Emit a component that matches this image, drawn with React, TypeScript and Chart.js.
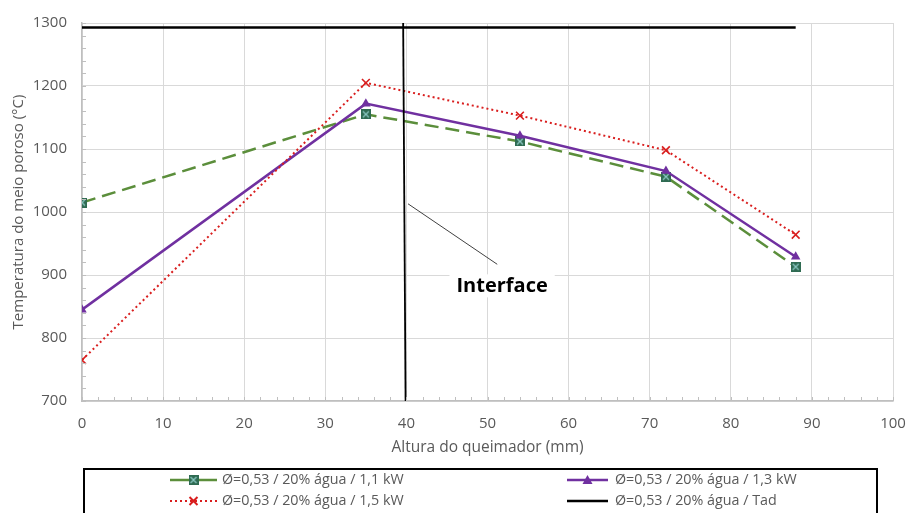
import React, { useEffect, useRef } from 'react';
import { Chart, registerables } from 'chart.js';

Chart.register(...registerables);

// ---- data ----
const heights = [0, 35, 54, 72, 88];
const temp11kW = [1015, 1155, 1112, 1056, 913];
const temp13kW = [845, 1172, 1121, 1065, 929];
const temp15kW = [765, 1205, 1153, 1098, 964];
const tadHeights = [0, 88];
const tadTemps = [1293, 1293];
const interfaceHeights = [39.6, 39.9];
const interfaceTemps = [1300, 700];
const pointerFrom = { x: 40.2, y: 1013 };
const pointerTo = { x: 51.2, y: 917 };
const interfaceLabelAt = { x: 51.8, y: 882 };
const interfaceLabel = 'Interface';
const xMin = 0, xMax = 100, xStep = 10, xMinorStep = 2;
const yMin = 700, yMax = 1300, yStep = 100, yMinorStep = 20;
const seriesLabels = [
  'Ø=0,53 / 20% água / 1,1 kW',
  'Ø=0,53 / 20% água / 1,3 kW',
  'Ø=0,53 / 20% água / 1,5 kW',
  'Ø=0,53 / 20% água / Tad',
];
const xTitle = 'Altura do queimador (mm)';
const yTitle = 'Temperatura do meio poroso (°C)';

const FONT = '"Open Sans", "DejaVu Sans", sans-serif';
const TEXT = '#595959';
const GREEN = '#5B8E3B';
const PURPLE = '#7030A0';
const RED = '#D91E1E';

function zip(xs: number[], ys: number[]) {
  return xs.map((x, i) => ({ x, y: ys[i] }));
}

function makeSquareMarker(): HTMLCanvasElement {
  const c = document.createElement('canvas');
  c.width = 10;
  c.height = 10;
  const g = c.getContext('2d')!;
  g.fillStyle = '#2F6B52';
  g.fillRect(0, 0, 10, 10);
  g.strokeStyle = '#8CC9C4';
  g.lineWidth = 1.2;
  g.beginPath();
  g.moveTo(2, 2);
  g.lineTo(8, 8);
  g.moveTo(8, 2);
  g.lineTo(2, 8);
  g.stroke();
  return c;
}

function drawMarker(ctx: CanvasRenderingContext2D, kind: string, x: number, y: number, img?: HTMLCanvasElement) {
  ctx.save();
  if (kind === 'square' && img) {
    ctx.drawImage(img, x - img.width / 2, y - img.height / 2);
  } else if (kind === 'triangle') {
    ctx.fillStyle = PURPLE;
    ctx.beginPath();
    ctx.moveTo(x, y - 5);
    ctx.lineTo(x + 5, y + 4);
    ctx.lineTo(x - 5, y + 4);
    ctx.closePath();
    ctx.fill();
  } else if (kind === 'cross') {
    ctx.strokeStyle = RED;
    ctx.lineWidth = 2;
    ctx.beginPath();
    ctx.moveTo(x - 4, y - 4);
    ctx.lineTo(x + 4, y + 4);
    ctx.moveTo(x + 4, y - 4);
    ctx.lineTo(x - 4, y + 4);
    ctx.stroke();
  }
  ctx.restore();
}

export default function App() {
  const ref = useRef<HTMLCanvasElement | null>(null);

  useEffect(() => {
    const canvas = ref.current;
    if (!canvas) return;
    const squareImg = makeSquareMarker();

    const minorTicks = {
      id: 'minorTicks',
      afterDraw(chart: any) {
        const { ctx, chartArea } = chart;
        const xs = chart.scales.x;
        const ys = chart.scales.y;
        ctx.save();
        ctx.strokeStyle = '#BFBFBF';
        ctx.lineWidth = 1;
        ctx.beginPath();
        for (let v = xMin; v <= xMax; v += xMinorStep) {
          const px = Math.round(xs.getPixelForValue(v)) + 0.5;
          ctx.moveTo(px, chartArea.bottom);
          ctx.lineTo(px, chartArea.bottom - 4);
        }
        for (let v = yMin; v <= yMax; v += yMinorStep) {
          const py = Math.round(ys.getPixelForValue(v)) + 0.5;
          ctx.moveTo(chartArea.left, py);
          ctx.lineTo(chartArea.left + 4, py);
        }
        ctx.stroke();
        ctx.restore();
      },
    };

    const annotation = {
      id: 'interfaceNote',
      afterDatasetsDraw(chart: any) {
        const { ctx } = chart;
        const xs = chart.scales.x;
        const ys = chart.scales.y;
        ctx.save();
        ctx.strokeStyle = '#404040';
        ctx.lineWidth = 1;
        ctx.beginPath();
        ctx.moveTo(xs.getPixelForValue(pointerFrom.x), ys.getPixelForValue(pointerFrom.y));
        ctx.lineTo(xs.getPixelForValue(pointerTo.x), ys.getPixelForValue(pointerTo.y));
        ctx.stroke();
        ctx.font = `bold 20px ${FONT}`;
        const tx = xs.getPixelForValue(interfaceLabelAt.x);
        const ty = ys.getPixelForValue(interfaceLabelAt.y);
        const w = ctx.measureText(interfaceLabel).width;
        ctx.fillStyle = '#FFFFFF';
        ctx.fillRect(tx - w / 2 - 7, ty - 12, w + 14, 23);
        ctx.fillStyle = '#000000';
        ctx.textAlign = 'center';
        ctx.textBaseline = 'middle';
        ctx.fillText(interfaceLabel, tx, ty);
        ctx.restore();
      },
    };

    const boxLegend = {
      id: 'boxLegend',
      afterDraw(chart: any) {
        const { ctx } = chart;
        ctx.save();
        ctx.strokeStyle = '#000000';
        ctx.lineWidth = 2;
        ctx.strokeRect(84, 469, 793, 60);
        const items = [
          { x0: 170, x1: 217, tx: 222, y: 480, color: GREEN, dash: [] as number[], width: 2.5, marker: 'square' },
          { x0: 567, x1: 608, tx: 615, y: 480, color: PURPLE, dash: [] as number[], width: 2.5, marker: 'triangle' },
          { x0: 170, x1: 217, tx: 222, y: 501, color: RED, dash: [2, 3], width: 2, marker: 'cross' },
          { x0: 567, x1: 608, tx: 615, y: 501, color: '#000000', dash: [] as number[], width: 2.5, marker: 'none' },
        ];
        items.forEach((it, i) => {
          ctx.save();
          ctx.strokeStyle = it.color;
          ctx.lineWidth = it.width;
          ctx.setLineDash(it.dash);
          ctx.beginPath();
          ctx.moveTo(it.x0, it.y);
          ctx.lineTo(it.x1, it.y);
          ctx.stroke();
          ctx.restore();
          drawMarker(ctx, it.marker, (it.x0 + it.x1) / 2, it.y, squareImg);
          ctx.fillStyle = TEXT;
          ctx.font = `14.3px ${FONT}`;
          ctx.textAlign = 'left';
          ctx.textBaseline = 'middle';
          ctx.fillText(seriesLabels[i], it.tx, it.y);
        });
        ctx.restore();
      },
    };

    const chart = new Chart(canvas, {
      type: 'line',
      data: {
        datasets: [
          {
            label: seriesLabels[0],
            data: zip(heights, temp11kW),
            borderColor: GREEN,
            borderWidth: 2.5,
            borderDash: [14, 7],
            pointStyle: squareImg as any,
            pointRadius: 5,
            order: 5,
          },
          {
            label: seriesLabels[1],
            data: zip(heights, temp13kW),
            borderColor: PURPLE,
            backgroundColor: PURPLE,
            borderWidth: 2.5,
            pointStyle: 'triangle',
            pointRadius: 5.5,
            pointBorderWidth: 0,
            order: 4,
          },
          {
            label: seriesLabels[2],
            data: zip(heights, temp15kW),
            borderColor: RED,
            borderWidth: 2,
            borderDash: [2, 3],
            pointStyle: 'crossRot',
            pointRadius: 5.5,
            pointBorderColor: RED,
            pointBorderWidth: 1.6,
            order: 3,
          },
          {
            label: seriesLabels[3],
            data: zip(tadHeights, tadTemps),
            borderColor: '#000000',
            borderWidth: 2.5,
            pointRadius: 0,
            order: 2,
          },
          {
            label: 'Interface',
            data: zip(interfaceHeights, interfaceTemps),
            borderColor: '#000000',
            borderWidth: 1.8,
            pointRadius: 0,
            order: 1,
          },
        ],
      },
      options: {
        animation: false,
        responsive: false,
        maintainAspectRatio: false,
        layout: { padding: { top: 23, right: 15, left: 0, bottom: 0 } },
        plugins: { legend: { display: false }, tooltip: { enabled: false } },
        elements: { line: { tension: 0, fill: false } },
        scales: {
          x: {
            type: 'linear',
            min: xMin,
            max: xMax,
            afterFit: (s: any) => {
              s.height = 112;
              s.paddingRight = 0;
              s.paddingLeft = 0;
            },
            ticks: {
              stepSize: xStep,
              color: TEXT,
              font: { family: FONT, size: 15 },
              padding: 14,
              callback: (v: any) => String(v),
            },
            grid: { color: '#D9D9D9', lineWidth: 1, drawTicks: false },
            border: { color: '#BFBFBF', width: 1.5 },
            title: {
              display: true,
              text: xTitle,
              color: TEXT,
              font: { family: FONT, size: 15.5 },
              padding: { top: 0, bottom: 56 },
            },
          },
          y: {
            type: 'linear',
            min: yMin,
            max: yMax,
            afterFit: (s: any) => {
              s.width = 82;
              s.paddingTop = 0;
              s.paddingBottom = 0;
            },
            ticks: {
              stepSize: yStep,
              color: TEXT,
              font: { family: FONT, size: 15 },
              padding: 15,
              callback: (v: any) => String(v),
            },
            grid: { color: '#D9D9D9', lineWidth: 1, drawTicks: false },
            border: { color: '#BFBFBF', width: 1.5 },
            title: {
              display: true,
              text: yTitle,
              color: TEXT,
              font: { family: FONT, size: 15 },
              padding: { top: 10, bottom: 0 },
            },
          },
        },
      },
      plugins: [minorTicks, annotation, boxLegend],
    } as any);

    return () => chart.destroy();
  }, []);

  return (
    <div style={{ position: 'fixed', left: 0, top: 0, width: 908, height: 513, background: '#fff' }}>
      <canvas ref={ref} width={908} height={513} style={{ display: 'block', width: 908, height: 513 }} />
    </div>
  );
}
